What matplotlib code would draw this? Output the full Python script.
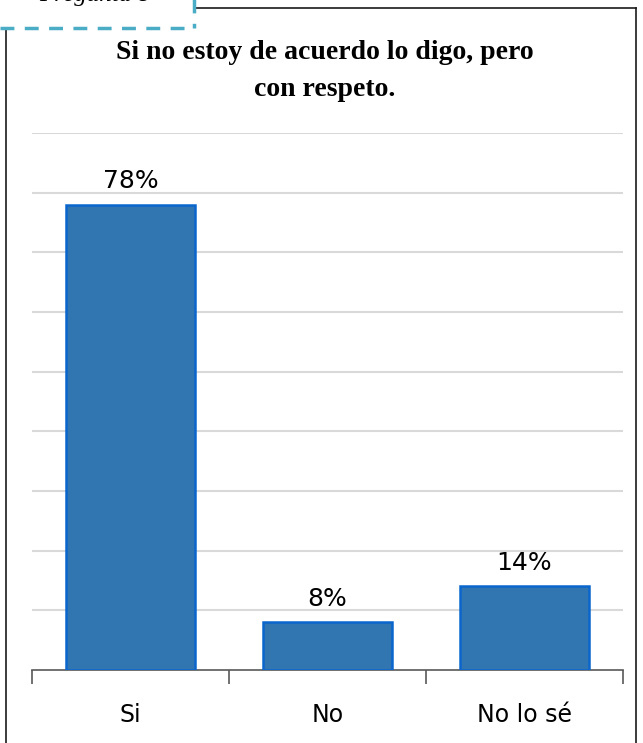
import matplotlib
matplotlib.use("Agg")
import matplotlib.pyplot as plt
from matplotlib.lines import Line2D

categories = ["Si", "No", "No lo sé"]
values = [0.78, 0.08, 0.14]
value_labels = ["78%", "8%", "14%"]
title = "Si no estoy de acuerdo lo digo, pero\ncon respeto."
corner_label = "Pregunta 8"

W, H = 643, 743
fig = plt.figure(figsize=(W / 100, H / 100), dpi=100)


def fx(px):
    return px / W


def fy(py):
    return 1 - py / H


# marco del gráfico y recuadro punteado
frame_color = "#1a1a1a"
fig.add_artist(Line2D([fx(6), fx(6)], [fy(28), fy(745)], color=frame_color, lw=1.2))
fig.add_artist(Line2D([fx(194), fx(636)], [fy(8), fy(8)], color=frame_color, lw=1.2))
fig.add_artist(Line2D([fx(636), fx(636)], [fy(8), fy(745)], color=frame_color, lw=1.2))
dash = "#4BACC6"
fig.add_artist(Line2D([fx(0), fx(194)], [fy(28), fy(28)], color=dash, lw=2.5, dashes=(4, 3)))
fig.add_artist(Line2D([fx(194), fx(194)], [fy(-2), fy(28)], color=dash, lw=2.5, dashes=(4, 3)))
fig.text(fx(95), fy(0.5), corner_label, ha="center", va="baseline",
         fontsize=18, family="Liberation Serif", style="italic")

fig.text(fx(325), fy(71), title, ha="center", va="center", fontsize=20,
         family="Liberation Serif", fontweight="bold", linespacing=1.6)

ax = fig.add_axes([fx(32), fy(670), fx(623) - fx(32), fy(133) - fy(670)])
x = list(range(len(categories)))
bars = ax.bar(x, values, width=0.65, color="#3276B1", edgecolor="#0A66CC",
              linewidth=1.8, zorder=3)
for b, lab in zip(bars, value_labels):
    ax.annotate(lab, (b.get_x() + b.get_width() / 2, b.get_height()),
                xytext=(0, 8), textcoords="offset points", ha="center",
                va="bottom", fontsize=18, family="DejaVu Sans")

ax.set_xlim(-0.5, 2.5)
ax.set_ylim(0, 0.9)
ax.set_yticks([i / 10 for i in range(1, 10)])
ax.yaxis.grid(True, color="#D9D9D9", lw=1.5, zorder=0)
ax.tick_params(axis="y", length=0, labelleft=False)
for side in ["left", "right", "top"]:
    ax.spines[side].set_visible(False)
ax.spines["bottom"].set_color("#595959")
ax.spines["bottom"].set_linewidth(1.2)

ax.set_xticks(x)
ax.set_xticklabels(categories, fontsize=17, family="DejaVu Sans")
ax.tick_params(axis="x", which="major", length=0, pad=24)
ax.set_xticks([-0.5, 0.5, 1.5, 2.5], minor=True)
ax.tick_params(axis="x", which="minor", length=10, width=1.2, color="#595959")

fig.savefig("out.png", dpi=100)
